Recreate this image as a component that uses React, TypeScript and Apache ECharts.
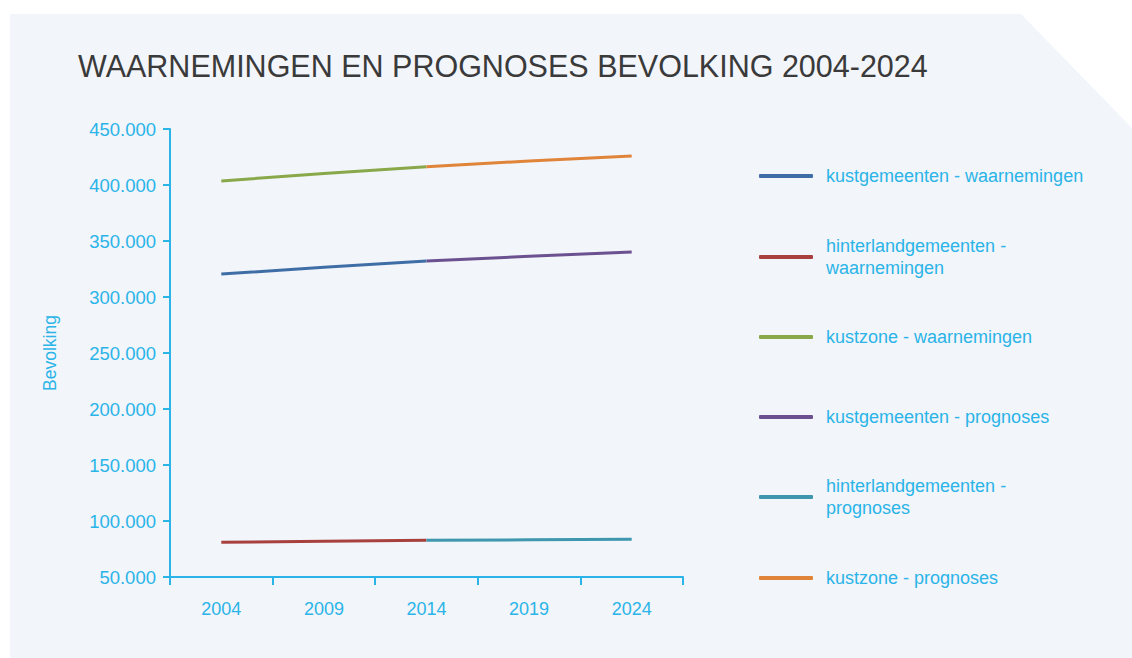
import React, { useEffect, useRef } from "react";
import * as echarts from "echarts";

const years = ["2004", "2009", "2014", "2019", "2024"];
const kustgemeentenObs = [320500, 326500, 332100, null, null];
const hinterlandObs = [81000, 81900, 82800, null, null];
const kustzoneObs = [403600, 410200, 416300, null, null];
const kustgemeentenProg = [null, null, 332100, 336300, 340200];
const hinterlandProg = [null, null, 82800, 83200, 83700];
const kustzoneProg = [null, null, 416300, 421400, 425900];

const seriesNames = [
  "kustgemeenten - waarnemingen",
  "hinterlandgemeenten - waarnemingen",
  "kustzone - waarnemingen",
  "kustgemeenten - prognoses",
  "hinterlandgemeenten - prognoses",
  "kustzone - prognoses",
];
const legendLabels = [
  "kustgemeenten - waarnemingen",
  "hinterlandgemeenten -\nwaarnemingen",
  "kustzone - waarnemingen",
  "kustgemeenten - prognoses",
  "hinterlandgemeenten -\nprognoses",
  "kustzone - prognoses",
];
const seriesData = [
  kustgemeentenObs,
  hinterlandObs,
  kustzoneObs,
  kustgemeentenProg,
  hinterlandProg,
  kustzoneProg,
];
const colors = ["#3f6ea6", "#a8403d", "#88a84a", "#6c5191", "#3f97af", "#e0843a"];
const legendCenters = [176, 257, 337, 417, 497, 578];

const CYAN = "#2ab4e8";
const FONT = "'Liberation Sans', Arial, Helvetica, sans-serif";

function fmt(v: number): string {
  return String(Math.round(v)).replace(/\B(?=(\d{3})+(?!\d))/g, ".");
}

export default function App() {
  const ref = useRef<HTMLDivElement>(null);
  useEffect(() => {
    if (!ref.current) return;
    const chart = echarts.init(ref.current, undefined, { renderer: "svg" });
    const LH = 22;
    const legends = seriesNames.map((name, i) => {
      const lines = legendLabels[i].split("\n").length;
      const h = lines * LH;
      return {
        orient: "vertical",
        left: 759,
        top: legendCenters[i] - h / 2,
        padding: 0,
        icon: "roundRect",
        itemWidth: 54,
        itemHeight: 4,
        data: [{ name }],
        formatter: () => legendLabels[i],
        textStyle: {
          color: CYAN,
          fontSize: 18,
          fontFamily: FONT,
          lineHeight: LH,
          padding: [0, 0, 0, 8],
        },
      };
    });
    chart.setOption({
      animation: false,
      backgroundColor: "#ffffff",
      graphic: [
        {
          type: "polygon",
          z: -10,
          silent: true,
          shape: {
            points: [
              [10, 14],
              [1021, 14],
              [1132, 128],
              [1132, 658],
              [10, 658],
            ],
          },
          style: { fill: "#f2f5fa" },
        },
      ],
      title: {
        text: "WAARNEMINGEN EN PROGNOSES BEVOLKING 2004-2024",
        left: 78,
        top: 50,
        padding: 0,
        textStyle: {
          color: "#3a3a3a",
          fontSize: 30.5,
          fontWeight: "normal",
          fontFamily: FONT,
          lineHeight: 31,
        },
      },
      legend: legends,
      grid: { left: 170, right: 449, top: 129, bottom: 81, containLabel: false },
      xAxis: {
        type: "category",
        data: years,
        boundaryGap: true,
        axisLine: { lineStyle: { color: CYAN, width: 2 } },
        axisTick: { show: true, length: 8, interval: 0, lineStyle: { color: CYAN, width: 2 } },
        axisLabel: { color: CYAN, fontSize: 18, fontFamily: FONT, margin: 23, interval: 0 },
        splitLine: { show: false },
      },
      yAxis: {
        type: "value",
        min: 50000,
        max: 450000,
        interval: 50000,
        name: "Bevolking",
        nameLocation: "middle",
        nameGap: 111,
        nameRotate: 90,
        nameTextStyle: { color: CYAN, fontSize: 17.5, fontFamily: FONT },
        axisLine: { show: true, lineStyle: { color: CYAN, width: 2 } },
        axisTick: { show: true, length: 7, lineStyle: { color: CYAN, width: 2 } },
        axisLabel: { color: CYAN, fontSize: 18.5, fontFamily: FONT, margin: 14, formatter: (v: number) => fmt(v) },
        splitLine: { show: false },
      },
      series: seriesNames.map((name, i) => ({
        name,
        type: "line",
        data: seriesData[i],
        showSymbol: false,
        symbol: "none",
        connectNulls: false,
        lineStyle: { color: colors[i], width: 3 },
        itemStyle: { color: colors[i] },
        z: i < 3 ? 2 : 3,
      })),
    });
    return () => chart.dispose();
  }, []);
  return (
    <div
      ref={ref}
      style={{ position: "fixed", left: 0, top: 0, width: 1132, height: 658 }}
    />
  );
}
